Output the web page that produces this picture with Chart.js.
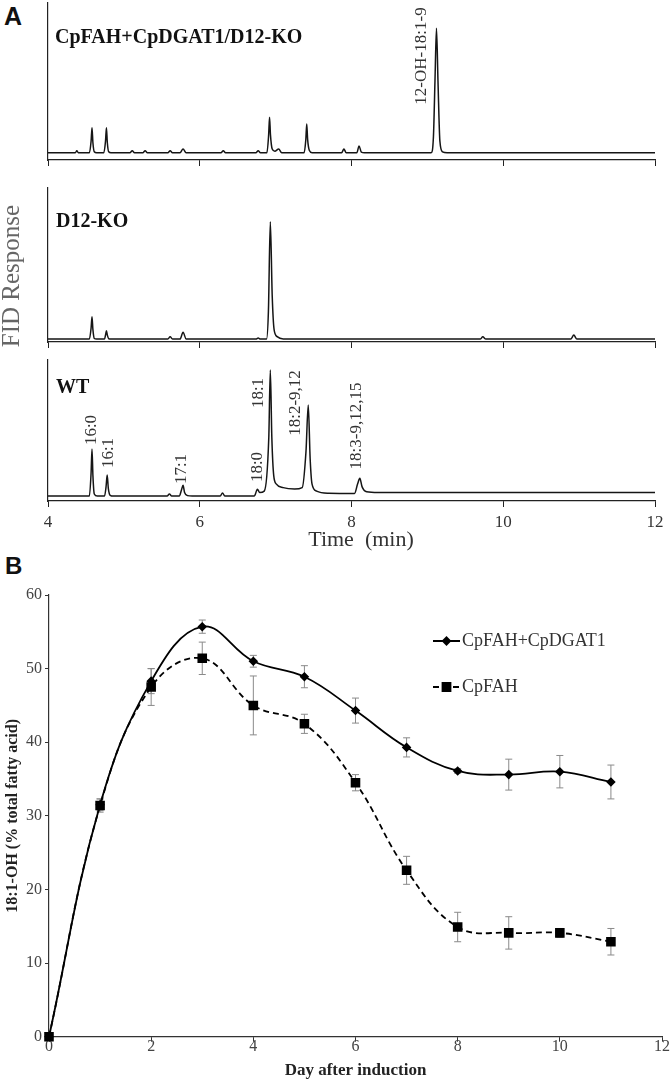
<!DOCTYPE html>
<html lang="en">
<head>
<meta charset="utf-8" />
<title>GC traces and 18:1-OH time course</title>
<script src="https://cdn.jsdelivr.net/npm/chart.js"></script>
<style>
  body { margin: 0; background: #fff; }
  #page { position: relative; width: 670px; height: 1087px; overflow: hidden; background: #fff; }
  .layer { position: absolute; left: 0; top: 0; width: 670px; height: 1087px; }
  .panel { position: absolute; font-family: "Liberation Sans", Arial, sans-serif; font-weight: bold; line-height: 1; color: #111; }
</style>
</head>
<body>
<div id="page">
  <div class="panel" style="left:4px; top:4px; font-size:25px;">A</div>
  <div class="panel" style="left:5px; top:554px; font-size:24px;">B</div>
  <div class="layer"><canvas id="gcTop"></canvas></div>
  <div class="layer"><canvas id="gcMid"></canvas></div>
  <div class="layer"><canvas id="gcWt"></canvas></div>
  <div class="layer"><canvas id="timeCourse"></canvas></div>
</div>
<script>
// ---- panel A : GC traces (time in min, detector response, arbitrary units) ----
var timeTop = [4.00, 4.36, 4.38, 4.40, 4.545, 4.568, 4.58, 4.592, 4.61, 4.64,
  4.735, 4.758, 4.77, 4.782, 4.80, 4.83, 5.08, 5.11, 5.14, 5.25, 5.28, 5.31,
  5.58, 5.61, 5.64, 5.74, 5.78, 5.82, 6.28, 6.31, 6.34, 6.74, 6.77, 6.80,
  6.885, 6.908, 6.92, 6.932, 6.955, 6.99, 7.04, 7.08,
  7.375, 7.398, 7.41, 7.422, 7.445, 7.48, 7.87, 7.90, 7.93, 8.07, 8.10, 8.13, 8.17,
  9.05, 9.08, 9.10, 9.12, 9.14, 9.165, 9.20, 9.26, 12.00];
var respTop = [4.6, 4.6, 5.9, 4.6, 4.6, 12, 20.6, 11, 5.2, 4.6,
  4.6, 12, 20.6, 11, 5.2, 4.6, 4.6, 5.9, 4.6, 4.6, 5.9, 4.6,
  4.6, 5.9, 4.6, 4.6, 7.0, 4.6, 4.6, 5.9, 4.6, 4.6, 5.9, 4.6,
  4.6, 16, 27.2, 16, 7.0, 5.6, 7.0, 4.6,
  4.6, 13, 22.9, 13, 6.0, 4.6, 4.6, 7.0, 4.6, 4.6, 8.9, 5.0, 4.6,
  4.6, 15, 50, 83.9, 50, 12, 5.2, 4.6, 4.6];

var timeMid = [4.00, 4.545, 4.568, 4.58, 4.592, 4.61, 4.64,
  4.745, 4.76, 4.77, 4.782, 4.80, 4.83, 5.58, 5.61, 5.64, 5.74, 5.78, 5.82, 5.86,
  6.74, 6.77, 6.80, 6.88, 6.905, 6.93, 6.955, 6.98, 7.02, 7.10,
  9.70, 9.73, 9.77, 10.89, 10.93, 10.97, 12.00];
var respMid = [1.9, 1.9, 9, 16.4, 8, 2.3, 1.9,
  1.9, 5, 7.3, 4.5, 2.1, 1.9, 1.9, 3.4, 1.9, 1.9, 6.3, 2.0, 1.9,
  1.9, 2.6, 1.9, 1.9, 20, 78.1, 30, 8, 3.5, 2.0,
  1.9, 3.4, 1.9, 1.9, 4.5, 1.9, 1.9];

var timeWt = [4.00, 4.545, 4.568, 4.58, 4.592, 4.61, 4.65,
  4.745, 4.765, 4.78, 4.795, 4.82, 4.86, 5.57, 5.60, 5.63,
  5.73, 5.76, 5.78, 5.80, 5.84, 5.90, 6.27, 6.30, 6.33,
  6.72, 6.76, 6.79, 6.85, 6.91, 6.93, 6.95, 6.975, 7.01, 7.10, 7.25,
  7.35, 7.40, 7.43, 7.455, 7.48, 7.54, 7.70, 8.04, 8.08, 8.11, 8.14, 8.20, 8.35, 12.00];
var respWt = [3.5, 3.5, 20, 36.9, 18, 5, 3.5,
  3.5, 10, 18.4, 9, 4, 3.5, 3.5, 5.0, 3.5,
  3.5, 8, 11.1, 6, 3.8, 3.5, 3.5, 5.7, 3.5,
  3.6, 8.3, 6, 7, 45, 92.9, 45, 18, 12, 9.5, 8.5,
  9.5, 35, 68.1, 30, 12, 7, 5.5, 5.3, 12, 16.1, 10, 6.5, 6.0, 6.0];

var traceNames = ["CpFAH+CpDGAT1/D12-KO", "D12-KO", "WT"];
var topPeakNames = ["12-OH-18:1-9"];
var topPeakTimes = [9.12];
var wtPeakNames = ["16:0", "16:1", "17:1", "18:0", "18:1", "18:2-9,12", "18:3-9,12,15"];
var wtPeakTimes = [4.58, 4.78, 5.78, 6.76, 6.93, 7.43, 8.11];
var timeTicks = [4, 6, 8, 10, 12];

// ---- panel B : 18:1-OH content over days after induction ----
var days = [0, 1, 2, 3, 4, 5, 6, 7, 8, 9, 10, 11];
var dgatMean = [0, 31.5, 48.3, 55.7, 51.0, 48.9, 44.3, 39.3, 36.1, 35.6, 36.0, 34.6];
var dgatErr = [0, 0.8, 1.7, 0.9, 0.8, 1.5, 1.7, 1.3, 0.3, 2.1, 2.2, 2.3];
var fahMean = [0, 31.4, 47.5, 51.4, 45.0, 42.5, 34.5, 22.6, 14.9, 14.1, 14.1, 12.9];
var fahErr = [0, 0.9, 2.5, 2.2, 4.0, 1.3, 1.1, 1.9, 2.0, 2.2, 0.6, 1.8];
var seriesNames = ["CpFAH+CpDGAT1", "CpFAH"];

var SERIF = '"Liberation Serif", "Times New Roman", serif';
var PAGE_H = 1087;

function pts(xs, ys) {
  return xs.map(function (x, i) { return { x: x, y: ys[i] }; });
}

// text drawn at pixel positions, or at a retention time when "t" is given
var notesPlugin = {
  id: 'notes',
  afterDraw: function (chart, args, opts) {
    var ctx = chart.ctx;
    var xs = chart.scales.x;
    (opts.items || []).forEach(function (it) {
      ctx.save();
      ctx.font = it.font;
      ctx.fillStyle = it.color || '#222';
      var x = it.t !== undefined ? xs.getPixelForValue(it.t) + (it.dx || 0) : it.x;
      ctx.translate(x, it.y);
      if (it.rot) ctx.rotate(-Math.PI / 2);
      ctx.textAlign = it.align || 'center';
      ctx.textBaseline = 'middle';
      ctx.fillText(it.text, 0, 0);
      ctx.restore();
    });
  }
};

var errPlugin = {
  id: 'errbars',
  beforeDatasetsDraw: function (chart) {
    var ctx = chart.ctx;
    var ys = chart.scales.y;
    chart.data.datasets.forEach(function (ds, i) {
      if (!ds.errors) return;
      var meta = chart.getDatasetMeta(i);
      ctx.save();
      ctx.strokeStyle = '#8a8a8a';
      ctx.lineWidth = 1;
      meta.data.forEach(function (el, j) {
        var e = ds.errors[j];
        if (!e) return;
        var v = ds.data[j].y;
        var y1 = ys.getPixelForValue(v + e), y2 = ys.getPixelForValue(v - e);
        ctx.beginPath();
        ctx.moveTo(el.x, y1); ctx.lineTo(el.x, y2);
        ctx.moveTo(el.x - 3.5, y1); ctx.lineTo(el.x + 3.5, y1);
        ctx.moveTo(el.x - 3.5, y2); ctx.lineTo(el.x + 3.5, y2);
        ctx.stroke();
      });
      ctx.restore();
    });
  }
};

var legendPlugin = {
  id: 'sideLegend',
  afterDraw: function (chart, args, opts) {
    var ctx = chart.ctx;
    chart.data.datasets.forEach(function (ds, i) {
      var y = opts.y[i];
      ctx.save();
      ctx.strokeStyle = '#000';
      ctx.lineWidth = 2;
      ctx.setLineDash(ds.borderDash || []);
      ctx.beginPath();
      ctx.moveTo(opts.x0, y); ctx.lineTo(opts.x1, y);
      ctx.stroke();
      ctx.setLineDash([]);
      Chart.helpers.drawPoint(ctx, { pointStyle: ds.pointStyle, radius: ds.pointRadius, borderWidth: 1 }, (opts.x0 + opts.x1) / 2, y);
      ctx.fillStyle = '#000';
      ctx.fill();
      ctx.font = '18px ' + SERIF;
      ctx.fillStyle = '#333';
      ctx.textBaseline = 'middle';
      ctx.fillText(ds.label, opts.x1 + 2, y);
      ctx.restore();
    });
  }
};

Chart.register(notesPlugin, errPlugin);

function gcChart(id, xs, ys, area, extra) {
  var xScale = {
    type: 'linear', min: 4, max: 12,
    afterBuildTicks: function (s) { s.ticks = timeTicks.map(function (v) { return { value: v }; }); },
    ticks: { display: !!extra.labels, font: { family: SERIF, size: 17 }, color: '#333', padding: 5 },
    grid: { display: true, drawOnChartArea: false, drawTicks: true, tickLength: 6, color: '#222' },
    border: { display: true, color: '#222', width: 1.2 },
    afterFit: function (s) { s.height = area.xh; }
  };
  return new Chart(document.getElementById(id), {
    type: 'line',
    data: { datasets: [{ data: pts(xs, ys), borderColor: '#151515', borderWidth: 1.5, pointRadius: 0,
      cubicInterpolationMode: 'monotone', fill: false }] },
    options: {
      responsive: true, maintainAspectRatio: false, animation: false,
      layout: { padding: { top: area.top, bottom: PAGE_H - area.bottom - area.xh, left: 0, right: 15 } },
      plugins: { legend: { display: false }, tooltip: { enabled: false }, notes: { items: extra.notes } },
      scales: {
        x: xScale,
        y: { min: 0, max: 100, ticks: { display: false }, grid: { display: false },
          border: { display: true, color: '#222', width: 1.2 },
          afterFit: function (s) { s.width = 48; } }
      }
    }
  });
}

var nameFont = 'bold 20px ' + SERIF;
var peakFont = '17px ' + SERIF;

gcChart('gcTop', timeTop, respTop, { top: 3, bottom: 160, xh: 15 }, {
  notes: [
    { text: traceNames[0], x: 55, y: 38, font: nameFont, align: 'left', color: '#111' },
    { text: topPeakNames[0], t: topPeakTimes[0], dx: -15, y: 56, rot: true, font: peakFont, color: '#333' }
  ]
});

gcChart('gcMid', timeMid, respMid, { top: 188, bottom: 342, xh: 15 }, {
  notes: [
    { text: traceNames[1], x: 56, y: 222, font: nameFont, align: 'left', color: '#111' },
    { text: 'FID Response', x: 12, y: 276, rot: true, font: '25px ' + SERIF, color: '#666' }
  ]
});

var wtLabelY = [430, 453, 469, 467, 393, 403, 426];
var wtLabelDx = [0, 1, -2, 0, -12, -13, -3];
gcChart('gcWt', timeWt, respWt, { top: 360, bottom: 501, xh: 54 }, {
  labels: true,
  notes: [
    { text: traceNames[2], x: 56, y: 388, font: nameFont, align: 'left', color: '#111' },
    { text: 'Time  (min)', x: 361, y: 540, font: '22px ' + SERIF, color: '#333' }
  ].concat(wtPeakNames.map(function (n, i) {
    return { text: n, t: wtPeakTimes[i], dx: wtLabelDx[i], y: wtLabelY[i], rot: true, font: peakFont, color: '#333' };
  }))
});

new Chart(document.getElementById('timeCourse'), {
  type: 'line',
  data: {
    datasets: [
      { label: seriesNames[0], data: pts(days, dgatMean), errors: dgatErr,
        borderColor: '#000', borderWidth: 1.8, tension: 0.4, clip: false,
        pointStyle: 'rectRot', pointRadius: 3.5, pointBackgroundColor: '#000', pointBorderColor: '#000' },
      { label: seriesNames[1], data: pts(days, fahMean), errors: fahErr,
        borderColor: '#000', borderWidth: 1.8, borderDash: [6, 4], tension: 0.4, clip: false,
        pointStyle: 'rect', pointRadius: 5.5, pointBackgroundColor: '#000', pointBorderColor: '#000' }
    ]
  },
  options: {
    responsive: true, maintainAspectRatio: false, animation: false,
    layout: { padding: { top: 595, bottom: 0, left: 0, right: 8 } },
    plugins: {
      legend: { display: false }, tooltip: { enabled: false },
      sideLegend: { x0: 433, x1: 460, y: [641, 687] }
    },
    scales: {
      x: {
        type: 'linear', min: 0, max: 12,
        ticks: { stepSize: 2, font: { family: SERIF, size: 16, lineHeight: 1 }, color: '#444', padding: -3 },
        grid: { display: true, drawOnChartArea: false, drawTicks: true, tickLength: 5, color: '#333' },
        border: { display: true, color: '#333', width: 1.2 },
        title: { display: true, text: 'Day after induction', color: '#222',
          font: { family: SERIF, size: 17, weight: 'bold' }, padding: { top: 0, bottom: 6 } },
        afterFit: function (s) { s.height = 50.3; }
      },
      y: {
        min: 0, max: 60,
        ticks: { stepSize: 10, font: { family: SERIF, size: 16 }, color: '#444', padding: 3 },
        grid: { display: true, drawOnChartArea: false, drawTicks: true, tickLength: 4, color: '#333' },
        border: { display: true, color: '#333', width: 1.2 },
        title: { display: true, text: '18:1-OH (% total fatty acid)', color: '#222',
          font: { family: SERIF, size: 16, weight: 'bold' }, padding: { top: 3, bottom: 0 } },
        afterFit: function (s) { s.width = 49; }
      }
    }
  },
  plugins: [legendPlugin]
});
</script>
</body>
</html>
